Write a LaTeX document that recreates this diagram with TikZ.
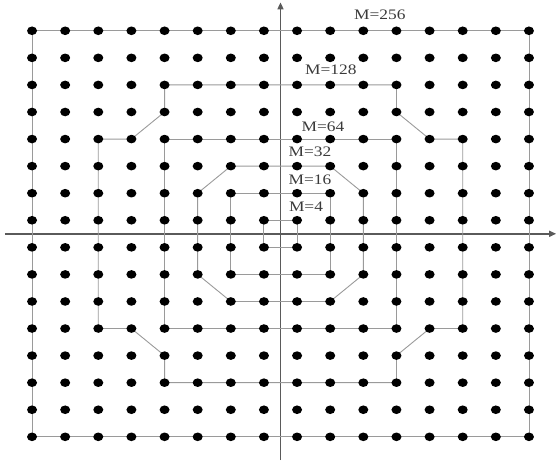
\documentclass[tikz,border=0pt]{standalone}
\usepackage{fontspec}
\setmainfont{Liberation Serif}
\usepackage{graphicx}
\usetikzlibrary{arrows.meta}
\definecolor{gridgray}{HTML}{9A9A9A}
\definecolor{axisgray}{HTML}{5A5A5A}
\definecolor{labelgray}{HTML}{3A3A3A}
\begin{document}
\begin{tikzpicture}[x=33.13pt,y=27.07pt,
  bound/.style={draw=gridgray,line width=0.9pt,line join=miter},
  axisline/.style={draw=axisgray,line width=1.5pt,-{Triangle[length=7pt,width=6pt]}},
  lab/.style={font=\fontsize{14.5}{16}\selectfont,text=labelgray,inner sep=0pt}
]
\useasboundingbox (-8.467,-8.467) rectangle (8.316,8.637);
% axes
\draw[axisline] (-8.32,0) -- (8.32,0);
\draw[axisline] (0,-8.36) -- (0,8.55);
% boundaries
% M=256
\draw[bound] (-7.5,7.5) rectangle (7.5,-7.5);
% M=128
\draw[bound] (-3.5,5.5) -- (3.5,5.5) -- (3.5,4.5) -- (4.5,3.5) -- (5.5,3.5)
  -- (5.5,-3.5) -- (4.5,-3.5) -- (3.5,-4.5) -- (3.5,-5.5) -- (-3.5,-5.5)
  -- (-3.5,-4.5) -- (-4.5,-3.5) -- (-5.5,-3.5) -- (-5.5,3.5) -- (-4.5,3.5)
  -- (-3.5,4.5) -- cycle;
% M=64
\draw[bound] (-3.5,3.5) rectangle (3.5,-3.5);
% M=32
\draw[bound] (-1.5,2.5) -- (1.5,2.5) -- (2.5,1.5) -- (2.5,-1.5) -- (1.5,-2.5)
  -- (-1.5,-2.5) -- (-2.5,-1.5) -- (-2.5,1.5) -- cycle;
% M=16
\draw[bound] (-1.5,1.5) rectangle (1.5,-1.5);
% M=4
\draw[bound] (-0.5,0.5) rectangle (0.5,-0.5);
% constellation points
\foreach \i in {-7.5,-6.5,...,7.5}
  \foreach \j in {-7.5,-6.5,...,7.5}
    \fill[black] (\i,\j) ellipse [x radius=5pt,y radius=4.3pt];
% labels
\node[lab] (l256) at (3.00,8.08) {\scalebox{1.2}[1]{M=256}};
\node[lab] (l128) at (1.52,6.05) {\scalebox{1.2}[1]{M=128}};
\node[lab] (l64)  at (1.28,3.94) {\scalebox{1.2}[1]{M=64}};
\node[lab] (l32)  at (0.89,3.02) {\scalebox{1.2}[1]{M=32}};
\node[lab] (l16)  at (0.89,1.99) {\scalebox{1.2}[1]{M=16}};
\node[lab] (l4)   at (0.77,0.99) {\scalebox{1.2}[1]{M=4}};
\end{tikzpicture}
\end{document}
